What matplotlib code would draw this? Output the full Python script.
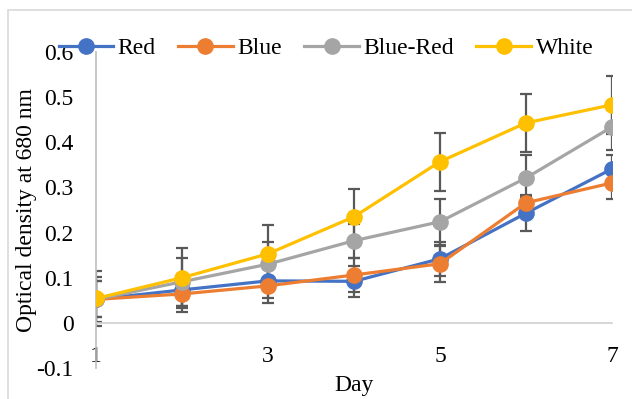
import numpy as np
import matplotlib
matplotlib.use('Agg')
import matplotlib.pyplot as plt
from matplotlib.patches import Rectangle

plt.rcParams['font.family'] = ['Liberation Serif', 'DejaVu Serif']

#-----------------------------------------------------------------------------------------------------------------------
# Data
#-----------------------------------------------------------------------------------------------------------------------
days = [1, 2, 3, 4, 5, 6, 7]
series_names = ["Red", "Blue", "Blue-Red", "White"]
red = [0.052, 0.073, 0.093, 0.092, 0.142, 0.243, 0.341]
blue = [0.052, 0.064, 0.082, 0.106, 0.131, 0.266, 0.310]
blue_red = [0.052, 0.091, 0.130, 0.182, 0.224, 0.321, 0.434]
white = [0.054, 0.100, 0.153, 0.235, 0.357, 0.443, 0.483]
red_err = [0.040, 0.035, 0.038, 0.035, 0.038, 0.040, 0.030]
blue_err = [0.040, 0.040, 0.038, 0.038, 0.040, 0.012, 0.035]
blue_red_err = [0.050, 0.053, 0.050, 0.038, 0.051, 0.051, 0.051]
white_err = [0.060, 0.066, 0.064, 0.062, 0.064, 0.064, 0.064]
colors = ['#4472C4', '#ED7D31', '#A5A5A5', '#FFC000']

values = [red, blue, blue_red, white]
errors = [red_err, blue_err, blue_red_err, white_err]

#-----------------------------------------------------------------------------------------------------------------------
# Figure
#-----------------------------------------------------------------------------------------------------------------------
fs = 17
fig = plt.figure(figsize=(6.32, 3.99), dpi=100)
ax = fig.add_axes([96 / 632, 1 - 368 / 399, (612 - 96) / 632, (368 - 52) / 399])

# light chart border
fig.patches.append(Rectangle((8 / 632, -0.5), 2, 1.5 - 10 / 399, transform=fig.transFigure,
                             fill=False, edgecolor='#D9D9D9', linewidth=1.2))

for i in range(len(values)):
    ax.errorbar(days, values[i], yerr=errors[i], fmt='none', ecolor='#595959',
                elinewidth=1.6, capsize=4, capthick=1.6, zorder=2)
for i in range(len(values)):
    ax.plot(days, values[i], color=colors[i], linewidth=2.3, marker='o', markersize=11,
            label=series_names[i], zorder=3 + i)

ax.set_xlim(1, 7)
ax.set_ylim(-0.1, 0.6)
ax.set_xticks([1, 3, 5, 7])
ax.set_yticks(np.arange(-0.1, 0.61, 0.1))
ax.set_yticklabels(['-0.1', '0', '0.1', '0.2', '0.3', '0.4', '0.5', '0.6'])

ax.spines['top'].set_visible(False)
ax.spines['right'].set_visible(False)
ax.spines['bottom'].set_position(('data', 0))
ax.spines['bottom'].set_color('#D0D0D0')
ax.spines['left'].set_color('#BFBFBF')
ax.spines['bottom'].set_linewidth(1.2)
ax.spines['left'].set_linewidth(1.2)
ax.tick_params(axis='x', length=0, pad=17, labelsize=fs)
ax.tick_params(axis='y', length=0, pad=16, labelsize=fs)

ax.set_ylabel('Optical density at 680 nm', fontsize=fs)
ax.yaxis.set_label_coords((37 - 96) / 516, 0.5)
fig.text(354 / 632, 1 - 386 / 399, 'Day', fontsize=fs, ha='center', va='center')

fig.legend(loc='center', bbox_to_anchor=(326 / 632, 1 - 48 / 399), ncol=4, frameon=False,
           fontsize=fs, handlelength=2.3, handletextpad=0.2, columnspacing=0.95, borderpad=0)

plt.savefig('out.png', dpi=100)
